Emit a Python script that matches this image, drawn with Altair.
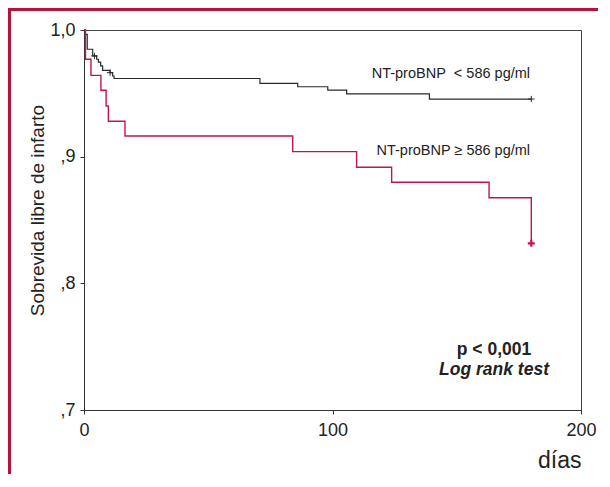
import altair as alt
import pandas as pd

# Kaplan-Meier estimates
low_days = [0, 0.5, 1.3, 3.5, 5.1, 5.8, 6.7, 7.5, 10.5, 11.5, 12.1, 70.8, 86.0, 98.1, 105.7, 139.0, 180.0]
low_surv = [1.0, 0.9966, 0.9848, 0.9795, 0.9769, 0.9747, 0.9716, 0.9682, 0.9663, 0.9637, 0.9617,
            0.9579, 0.9552, 0.9526, 0.9495, 0.9455, 0.9455]
high_days = [0, 0.6, 2.8, 6.8, 8.9, 9.8, 16.5, 84.0, 109.7, 123.8, 163.0, 180.0]
high_surv = [1.0, 0.9769, 0.9642, 0.9524, 0.940, 0.928, 0.9163, 0.904, 0.8916, 0.8798, 0.8676, 0.8316]

low_censor_days = [4.2, 10.5, 180.0]
low_censor_surv = [0.9795, 0.9663, 0.9455]
high_censor_days = [180.0]
high_censor_surv = [0.8316]

labels = ["NT-proBNP\u00a0 < 586 pg/ml", "NT-proBNP \u2265 586 pg/ml"]
label_days = [179.5, 179.5]
label_surv = [0.9655, 0.9045]

stat_labels = ["p < 0,001", "Log rank test"]
stat_days = [165.0, 165.0]
stat_surv = [0.7474, 0.7316]

FONT = "Liberation Sans"
BLACK = "#2a2a2a"
RED = "#c0164a"
BORDER = "#b5123c"

low = pd.DataFrame({"day": low_days, "surv": low_surv})
high = pd.DataFrame({"day": high_days, "surv": high_surv})
lowc = pd.DataFrame({"day": low_censor_days, "surv": low_censor_surv})
highc = pd.DataFrame({"day": high_censor_days, "surv": high_censor_surv})
lab = pd.DataFrame({"label": labels, "day": label_days, "surv": label_surv})
stat1 = pd.DataFrame({"label": stat_labels[:1], "day": stat_days[:1], "surv": stat_surv[:1]})
stat2 = pd.DataFrame({"label": stat_labels[1:], "day": stat_days[1:], "surv": stat_surv[1:]})

xscale = alt.Scale(domain=[0, 200], nice=False)
yscale = alt.Scale(domain=[0.7, 1.0], nice=False, zero=False)

xenc = alt.X("day:Q", scale=xscale, axis=alt.Axis(
    values=[0, 100, 200], title="días", grid=False, domainColor="#333", tickColor="#333",
    tickSize=4, labelFont=FONT, labelFontSize=18, labelColor="#222", labelPadding=7,
    labelFlush=False, labelOverlap=False,
    titleFont=FONT, titleFontSize=23, titleFontWeight="normal", titleColor="#222",
    titleAnchor="end", titleAlign="right", titleX=497, titleY=57, titleBaseline="alphabetic"))
yenc = alt.Y("surv:Q", scale=yscale, axis=alt.Axis(
    values=[0.7, 0.8, 0.9, 1.0], title="Sobrevida libre de infarto", grid=False,
    domainColor="#333", tickColor="#333", tickSize=4,
    labelExpr="datum.value >= 0.99 ? '1,0' : ',' + format(datum.value * 10, '.0f')",
    labelFont=FONT, labelFontSize=18, labelColor="#222", labelPadding=5,
    labelFlush=False, labelOverlap=False,
    titleFont=FONT, titleFontSize=19, titleFontWeight="normal", titleColor="#222",
    titleX=-47, titleY=180, titleAlign="center", titleBaseline="middle", titleAngle=-90))

low_line = alt.Chart(low).mark_line(interpolate="step-after", color=BLACK, strokeWidth=1.2).encode(x=xenc, y=yenc)
high_line = alt.Chart(high).mark_line(interpolate="step-after", color=RED, strokeWidth=1.4).encode(x="day:Q", y="surv:Q")

plus = "M-1,0H1M0,-1V1"
low_pts = alt.Chart(lowc).mark_point(shape=plus, filled=False, color=BLACK, size=40, strokeWidth=1, opacity=1).encode(x="day:Q", y="surv:Q")
high_pts = alt.Chart(highc).mark_point(shape=plus, filled=False, color=RED, size=50, strokeWidth=2.2, opacity=1).encode(x="day:Q", y="surv:Q")

lab_text = alt.Chart(lab).mark_text(align="right", baseline="middle", font=FONT, fontSize=14.5, color="#222").encode(
    x="day:Q", y="surv:Q", text="label:N")
stat_text1 = alt.Chart(stat1).mark_text(align="center", baseline="middle", font=FONT, fontSize=17.5,
                                        fontWeight="bold", color="#222").encode(x="day:Q", y="surv:Q", text="label:N")
stat_text2 = alt.Chart(stat2).mark_text(align="center", baseline="middle", font=FONT, fontSize=17.5,
                                        fontWeight="bold", fontStyle="italic", color="#222").encode(
    x="day:Q", y="surv:Q", text="label:N")

border_top = alt.Chart(low).mark_rule(color=BORDER, strokeWidth=3).encode(
    x=alt.value(-80), x2=alt.value(700), y=alt.value(-20.5))
border_left = alt.Chart(low).mark_rule(color=BORDER, strokeWidth=3).encode(
    x=alt.value(-74.5), y=alt.value(-25), y2=alt.value(600))

chart = alt.layer(low_line, high_line, low_pts, high_pts, lab_text, stat_text1, stat_text2,
                  border_top, border_left).properties(
    width=497, height=380, autosize="none",
    padding={"left": 76, "top": 22, "right": 17, "bottom": 64},
    background="white",
).configure_view(stroke="#444", strokeWidth=1)

chart.save("out.html", embed_options={"renderer": "svg", "actions": False})
